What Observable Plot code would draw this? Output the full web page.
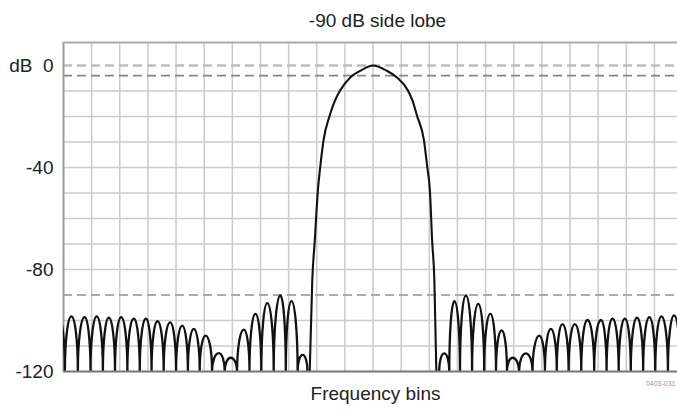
<!DOCTYPE html>
<html><head><meta charset="utf-8">
<script src="https://cdn.jsdelivr.net/npm/d3@7"></script>
<script src="https://cdn.jsdelivr.net/npm/@observablehq/plot@0.6"></script>
<style>html,body{margin:0;padding:0;background:#fff}</style>
</head><body><div id="chart"></div>
<script>
// ---- text ----
const title = "-90 dB side lobe";
const xLabel = "Frequency bins";
const figCode = "0403-031";

// ---- axes / grid ----
const yTicks = [0, -40, -80, -120];
const yGrid = [-110, -100, -80, -70, -60, -50, -40, -30, -20, -10];
const xGrid = [-10, -9, -8, -7, -6, -5, -4, -3, -2, -1, 0, 1, 2, 3, 4, 5, 6, 7, 8, 9, 10];
const xDomain = [-11, 10.82];
const yDomain = [-120, 9];
const peakRef = [0];
const bandRef = [-4];
const sideLobeRef = [-90];
const floorDb = -120;

// ---- main lobe (bins, dB) ----
const mainX  = [-2.25, -2.16, -2.07, -1.96, -1.87, -1.76, -1.54, -1.35, -1.17, -0.80, -0.44, 0,
                0.48, 0.84, 1.24, 1.40, 1.56, 1.81, 1.92, 2.02, 2.10, 2.18, 2.25];
const mainDb = [-120, -84.3, -68.6, -49.0, -39.2, -29.4, -19.6, -13.7, -9.8, -4.6, -2.0, 0,
                -2.0, -4.6, -9.8, -13.7, -19.6, -29.4, -39.2, -49.0, -68.6, -84.3, -120];

// ---- left side lobes: peak then following null ----
const leftPeakX  = [-11.17, -10.72, -10.25, -9.82, -9.39, -8.95, -8.50, -8.07, -7.66, -7.21, -6.78,
                    -6.37, -5.95, -5.48, -5.06, -4.59, -4.18, -3.76, -3.29, -2.90, -2.50];
const leftPeakDb = [-98.3, -98.4, -98.7, -98.4, -98.9, -98.7, -99.3, -99.3, -100.3, -100.7, -102.0,
                    -103.3, -105.9, -112.8, -114.6, -103.6, -97.4, -93.2, -90.2, -92.4, -113.5];
const leftNullX  = [-10.95, -10.49, -10.04, -9.60, -9.17, -8.73, -8.29, -7.87, -7.44, -7.00, -6.58,
                    -6.16, -5.72, -5.27, -4.83, -4.39, -3.97, -3.53, -3.10, -2.68, -2.33];

// ---- right side lobes: null then following peak ----
const rightNullX  = [2.35, 2.71, 3.09, 3.52, 3.95, 4.37, 4.76, 5.19, 5.67, 6.11, 6.53,
                     6.95, 7.40, 7.86, 8.30, 8.73, 9.16, 9.60, 10.03, 10.48, 10.92];
const rightPeakX  = [2.53, 2.89, 3.30, 3.74, 4.17, 4.57, 4.96, 5.43, 5.91, 6.32,
                     6.73, 7.17, 7.62, 8.10, 8.51, 8.95, 9.38, 9.82, 10.25, 10.70];
const rightPeakDb = [-112.9, -92.4, -90.2, -93.5, -97.4, -103.9, -114.6, -112.9, -105.9, -103.3,
                     -101.4, -101.4, -99.8, -99.8, -99.3, -99.3, -98.9, -98.7, -98.4, -98.0];

// build tables
const mainLobe = mainX.map((x, i) => ({x, db: mainDb[i]}));
const leftLobes = [];
leftPeakX.forEach((x, i) => {
  leftLobes.push({x, db: leftPeakDb[i]});
  leftLobes.push({x: leftNullX[i], db: floorDb});
});
const rightLobes = [];
rightNullX.forEach((x, i) => {
  rightLobes.push({x, db: floorDb});
  if (i < rightPeakX.length) rightLobes.push({x: rightPeakX[i], db: rightPeakDb[i]});
});

// arch-shaped curve: vertical at nulls, flat at peaks
function archCurve(context) {
  const k = 0.5523;
  let x0, y0, started = false;
  return {
    areaStart() {}, areaEnd() {},
    lineStart() { started = false; },
    lineEnd() {},
    point(x, y) {
      x = +x; y = +y;
      if (!started) { context.moveTo(x, y); started = true; }
      else if (y < y0) context.bezierCurveTo(x0, y0 + k * (y - y0), x - k * (x - x0), y, x, y);
      else if (y > y0) context.bezierCurveTo(x0 + k * (x - x0), y0, x, y - k * (y - y0), x, y);
      else context.lineTo(x, y);
      x0 = x; y0 = y;
    }
  };
}

const lobeStyle = {stroke: "#111", strokeWidth: 2.3, clip: true};
const mainStyle = {stroke: "#111", strokeWidth: 2.1, clip: true};

const chart = Plot.plot({
  width: 677,
  height: 411,
  marginTop: 42,
  marginBottom: 40,
  marginLeft: 63,
  marginRight: 0,
  style: {fontFamily: "'Liberation Sans', Arial, Helvetica, sans-serif", fontSize: "19px", color: "#222", background: "#fff"},
  x: {domain: xDomain, axis: null},
  y: {domain: yDomain, ticks: yTicks, tickFormat: d => d === 0 ? "dB\u00a0\u00a00" : String(d), tickSize: 0, tickPadding: 10, label: null},
  marks: [
    Plot.ruleX(xGrid, {stroke: "#cbcbcb", strokeWidth: 1.5}),
    Plot.ruleY(yGrid, {stroke: "#cbcbcb", strokeWidth: 1.5}),
    Plot.ruleY(peakRef, {stroke: "#bdbdbd", strokeWidth: 2.4, strokeDasharray: "9,5"}),
    Plot.ruleY(bandRef, {stroke: "#858585", strokeWidth: 1.8, strokeDasharray: "9,5"}),
    Plot.ruleY(sideLobeRef, {stroke: "#aaaaaa", strokeWidth: 2.2, strokeDasharray: "9,5"}),
    Plot.ruleX([xDomain[0]], {stroke: "#999", strokeWidth: 2}),
    Plot.ruleY([yDomain[1]], {stroke: "#aaa", strokeWidth: 2}),
    Plot.line(leftLobes, {x: "x", y: "db", curve: archCurve, ...lobeStyle}),
    Plot.line(rightLobes, {x: "x", y: "db", curve: archCurve, ...lobeStyle}),
    Plot.line(mainLobe, {x: "x", y: "db", curve: "monotone-x", ...mainStyle}),
    Plot.ruleY([yDomain[0]], {stroke: "#777", strokeWidth: 2}),
    Plot.text([title], {text: d => d, frameAnchor: "top", lineAnchor: "middle", dy: -22, dx: 7, fill: "#222", fontSize: 19}),
    Plot.text([xLabel], {text: d => d, frameAnchor: "bottom", lineAnchor: "middle", dy: 22, dx: 5, fill: "#222", fontSize: 19}),
    Plot.text([figCode], {text: d => d, frameAnchor: "bottom-right", textAnchor: "end", lineAnchor: "middle", dy: 12, dx: -2, fill: "#999", fontSize: 7})
  ]
});
document.getElementById("chart").appendChild(chart);
</script>
</body></html>
